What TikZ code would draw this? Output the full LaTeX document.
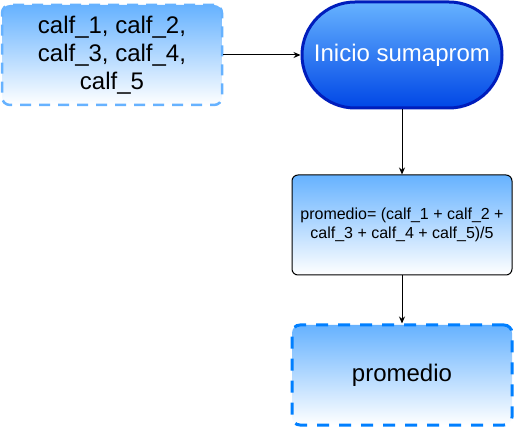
\documentclass[tikz,border=0pt]{standalone}
\usepackage{fontspec}
\setmainfont{Liberation Sans}
\usetikzlibrary{arrows.meta}
\definecolor{lightblue}{HTML}{66B2FF}
\definecolor{darkblue}{HTML}{0047E6}
\definecolor{darkline}{HTML}{001DBC}
\definecolor{dashblue}{HTML}{007FFF}
\newcommand{\bigtext}{\fontsize{24}{28}\selectfont}
\newcommand{\smalltext}{\fontsize{16}{18.5}\selectfont}
\tikzset{
  databox/.style={rectangle, rounded corners=8pt, minimum width=220pt, minimum height=100pt,
    top color=lightblue, bottom color=white, dashed, align=center, inner sep=0pt, font=\bigtext},
  termbox/.style={rectangle, rounded corners=53pt, minimum width=200pt, minimum height=106pt,
    top color=lightblue, bottom color=darkblue, draw=darkline, line width=3pt,
    text=white, inner sep=0pt, font=\bigtext},
  procbox/.style={rectangle, rounded corners=6pt, minimum width=220pt, minimum height=100pt,
    top color=lightblue, bottom color=white, draw=black, line width=1pt, align=center,
    inner sep=0pt, font=\smalltext},
  flow/.style={-{Stealth[length=7pt,width=6pt]}, line width=1pt}
}

\begin{document}
\begin{tikzpicture}[x=1pt,y=-1pt]
 \useasboundingbox (0,0) rectangle (514,427);

 \node[databox, draw=lightblue, line width=2.5pt, dash pattern=on 11pt off 8pt] (datos) at (112,55)
   {calf\_1, calf\_2,\\ calf\_3, calf\_4,\\ calf\_5};
 \node[termbox] (inicio) at (402,55) {Inicio sumaprom};
 \node[procbox] (calculo) at (402,225)
   {promedio= (calf\_1 + calf\_2 +\\ calf\_3 + calf\_4 + calf\_5)/5};
 \node[databox, draw=dashblue, line width=3pt, dash pattern=on 12pt off 10pt] (salida) at (402,375)
   {promedio};

 \draw[flow] (datos) -- (inicio);
 \draw[flow] (inicio) -- (calculo);
 \draw[flow] (calculo) -- (salida);

\end{tikzpicture}
\end{document}
